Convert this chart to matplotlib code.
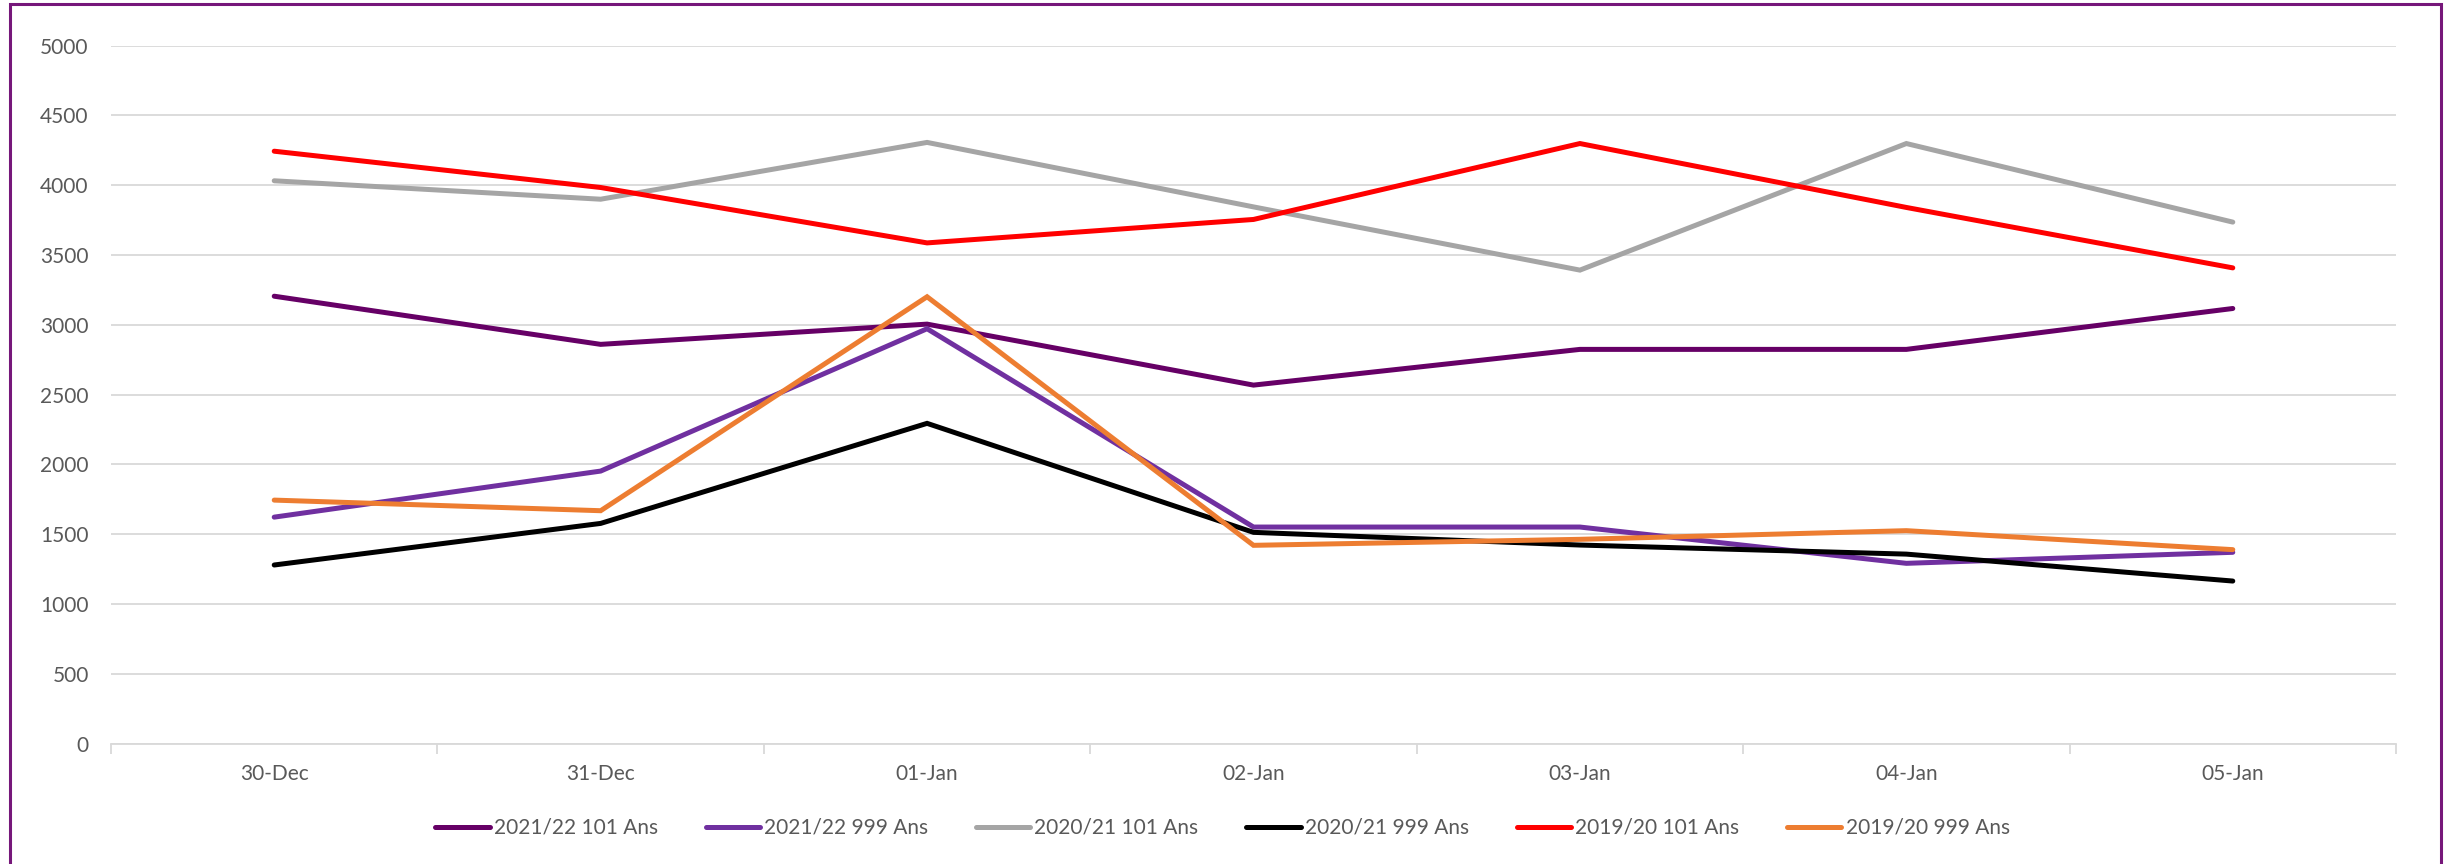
import matplotlib.pyplot as plt
import numpy as np
from matplotlib.patches import Rectangle

# data
days = ['30-Dec', '31-Dec', '01-Jan', '02-Jan', '03-Jan', '04-Jan', '05-Jan']
s2122_101 = [3205, 2860, 3005, 2568, 2824, 2824, 3117]
s2122_999 = [1622, 1952, 2972, 1551, 1551, 1291, 1370]
s2021_101 = [4032, 3900, 4307, 3845, 3392, 4299, 3736]
s2021_999 = [1279, 1577, 2294, 1513, 1422, 1357, 1164]
s1920_101 = [4244, 3984, 3587, 3755, 4299, 3841, 3408]
s1920_999 = [1744, 1668, 3201, 1420, 1463, 1525, 1389]

series_names = ['2021/22 101 Ans', '2021/22 999 Ans', '2020/21 101 Ans',
                '2020/21 999 Ans', '2019/20 101 Ans', '2019/20 999 Ans']
series_vals = [s2122_101, s2122_999, s2021_101, s2021_999, s1920_101, s1920_999]
colors = ['#660066', '#7030A0', '#A5A5A5', '#000000', '#FF0000', '#ED7D31']

plt.rcParams['font.family'] = ['Lato', 'DejaVu Sans']
text_col = '#595959'
grid_col = '#D9D9D9'

fig = plt.figure(figsize=(24.45, 8.64), dpi=100)
ax = fig.add_axes([111 / 2445, 1 - 743.5 / 864, (2396 - 111) / 2445, (743.5 - 45.7) / 864])

x = np.arange(len(days))
for vals, name, c in zip(series_vals, series_names, colors):
    ax.plot(x, vals, color=c, lw=3.6, label=name, solid_capstyle='round', solid_joinstyle='miter')

ax.set_xlim(-0.5, len(days) - 0.5)
ax.set_ylim(0, 5000)
ax.set_yticks(np.arange(0, 5001, 500))
ax.set_xticks(x)
ax.set_xticklabels(days)
ax.set_xticks(np.arange(-0.5, len(days)), minor=True)
ax.tick_params(axis='x', which='major', length=0, pad=15, labelsize=15, labelcolor=text_col)
ax.tick_params(axis='x', which='minor', length=7, width=1.3, color=grid_col)
ax.tick_params(axis='y', length=0, pad=16, labelsize=15, labelcolor=text_col)

ax.grid(axis='y', color=grid_col, lw=1.3)
ax.set_axisbelow(True)
for side in ['top', 'right', 'left']:
    ax.spines[side].set_visible(False)
ax.spines['bottom'].set_color(grid_col)
ax.spines['bottom'].set_linewidth(1.3)

fig.legend(loc='center', bbox_to_anchor=(0.5, 1 - 828 / 864), ncol=6, frameon=False,
           fontsize=15, labelcolor=text_col, handlelength=2.6, handletextpad=0.2,
           columnspacing=2.3)

# purple frame around the chart (bottom edge falls outside the image)
fig.patches.append(Rectangle((10 / 2445, -0.02), (2441 - 10) / 2445, 1.02 - 4 / 864,
                             transform=fig.transFigure, fill=False,
                             edgecolor='#76177A', lw=2.2))

fig.savefig('out.png', dpi=100)
